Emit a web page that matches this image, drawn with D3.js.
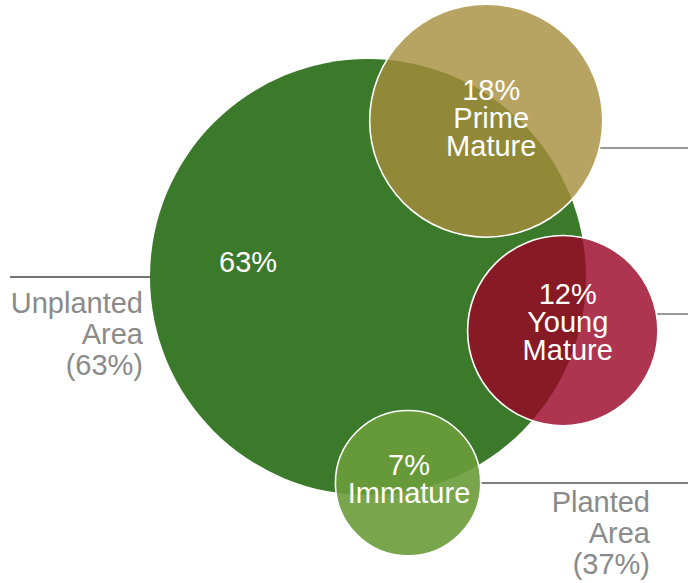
<!DOCTYPE html>
<html>
<head>
<meta charset="utf-8">
<script src="https://cdn.jsdelivr.net/npm/d3@7"></script>
<style>
  html, body { margin: 0; padding: 0; background: #fff; }
  svg { display: block; }
  text { font-family: "Liberation Sans", Arial, sans-serif; }
</style>
</head>
<body>
<div id="chart"></div>
<script>
// ---------------------------------------------------------------------------
// Data
const mainLabel = 'Unplanted Area';
const mainShare = 63;
const plantedLabel = 'Planted Area';
const plantedShare = 37;

const segments = ['Prime Mature', 'Young Mature', 'Immature'];
const segmentShares = [18, 12, 7];
const segmentColors = ['#a68d3b', '#9a0324', '#6a9c3a'];

// ---------------------------------------------------------------------------
// Layout
const width = 688;
const height = 583;
const center = { x: 368, y: 277 };
// where each small bubble sits around the big one (angle in deg, distance in px)
const placement = [
  { angle: -52.9, dist: 196, lineY: 148, dx: 5, dy: 7, opacity: 0.8 },
  { angle: 15.4, dist: 202, lineY: 314, dx: 5, dy: 1, opacity: 0.8 },
  { angle: 79, dist: 210, lineY: 483, dx: 1, dy: 6, opacity: 0.9 }
];
const lineH = 28;
const fontSize = 29;

const svg = d3.select('#chart')
  .append('svg')
  .attr('width', width)
  .attr('height', height);

const r = d3.scaleSqrt().domain([0, mainShare]).range([0, 218]);

// big bubble
svg.append('circle')
  .attr('cx', center.x)
  .attr('cy', center.y)
  .attr('r', r(mainShare))
  .attr('fill', '#3c7a2b');

svg.append('text')
  .attr('x', center.x - r(mainShare) * 0.55)
  .attr('y', center.y - 5)
  .attr('text-anchor', 'middle')
  .attr('fill', '#fff')
  .attr('font-size', fontSize)
  .text(mainShare + '%');

// left leader + label
svg.append('line')
  .attr('x1', 10).attr('x2', center.x - r(mainShare))
  .attr('y1', center.y).attr('y2', center.y)
  .attr('stroke', '#444').attr('stroke-width', 1.3);

const leftLines = mainLabel.split(' ').concat(['(' + mainShare + '%)']);
svg.append('text')
  .attr('text-anchor', 'end')
  .attr('fill', '#8a8a8a')
  .attr('font-size', fontSize)
  .selectAll('tspan')
  .data(leftLines)
  .join('tspan')
  .attr('x', 143)
  .attr('y', (d, i) => 313 + i * 31)
  .text(d => d);

// small bubbles
const nodes = segments.map((name, i) => {
  const p = placement[i];
  const a = p.angle * Math.PI / 180;
  return {
    name: name,
    share: segmentShares[i],
    color: segmentColors[i],
    cx: center.x + Math.cos(a) * p.dist,
    cy: center.y + Math.sin(a) * p.dist,
    r: r(segmentShares[i]),
    lineY: p.lineY,
    dx: p.dx,
    dy: p.dy,
    opacity: p.opacity
  };
});

// leader lines for the bubbles
nodes.forEach((d, i) => {
  const dy = d.lineY - d.cy;
  const x1 = d.cx + Math.sqrt(Math.max(0, d.r * d.r - dy * dy));
  svg.append('line')
    .attr('x1', x1).attr('x2', width)
    .attr('y1', d.lineY).attr('y2', d.lineY)
    .attr('stroke', i === 2 ? '#555' : '#999')
    .attr('stroke-width', i === 2 ? 1.3 : 2);
});

const g = svg.selectAll('.bubble')
  .data(nodes)
  .join('g')
  .attr('class', 'bubble');

g.append('circle')
  .attr('cx', d => d.cx)
  .attr('cy', d => d.cy)
  .attr('r', d => d.r)
  .attr('fill', d => d.color)
  .attr('fill-opacity', d => d.opacity)
  .attr('stroke', '#fff')
  .attr('stroke-width', 1.6);

g.each(function(d) {
  const lines = [d.share + '%'].concat(d.name.split(' '));
  const n = lines.length;
  d3.select(this).append('text')
    .attr('text-anchor', 'middle')
    .attr('fill', '#fff')
    .attr('font-size', fontSize)
    .selectAll('tspan')
    .data(lines)
    .join('tspan')
    .attr('x', d.cx + d.dx)
    .attr('y', (t, i) => d.cy + (i - (n - 1) / 2) * lineH + d.dy)
    .text(t => t);
});

// planted group label
const rightLines = plantedLabel.split(' ').concat(['(' + plantedShare + '%)']);
svg.append('text')
  .attr('text-anchor', 'end')
  .attr('fill', '#8a8a8a')
  .attr('font-size', fontSize)
  .selectAll('tspan')
  .data(rightLines)
  .join('tspan')
  .attr('x', 650)
  .attr('y', (d, i) => 512 + i * 31)
  .text(d => d);
</script>
</body>
</html>
